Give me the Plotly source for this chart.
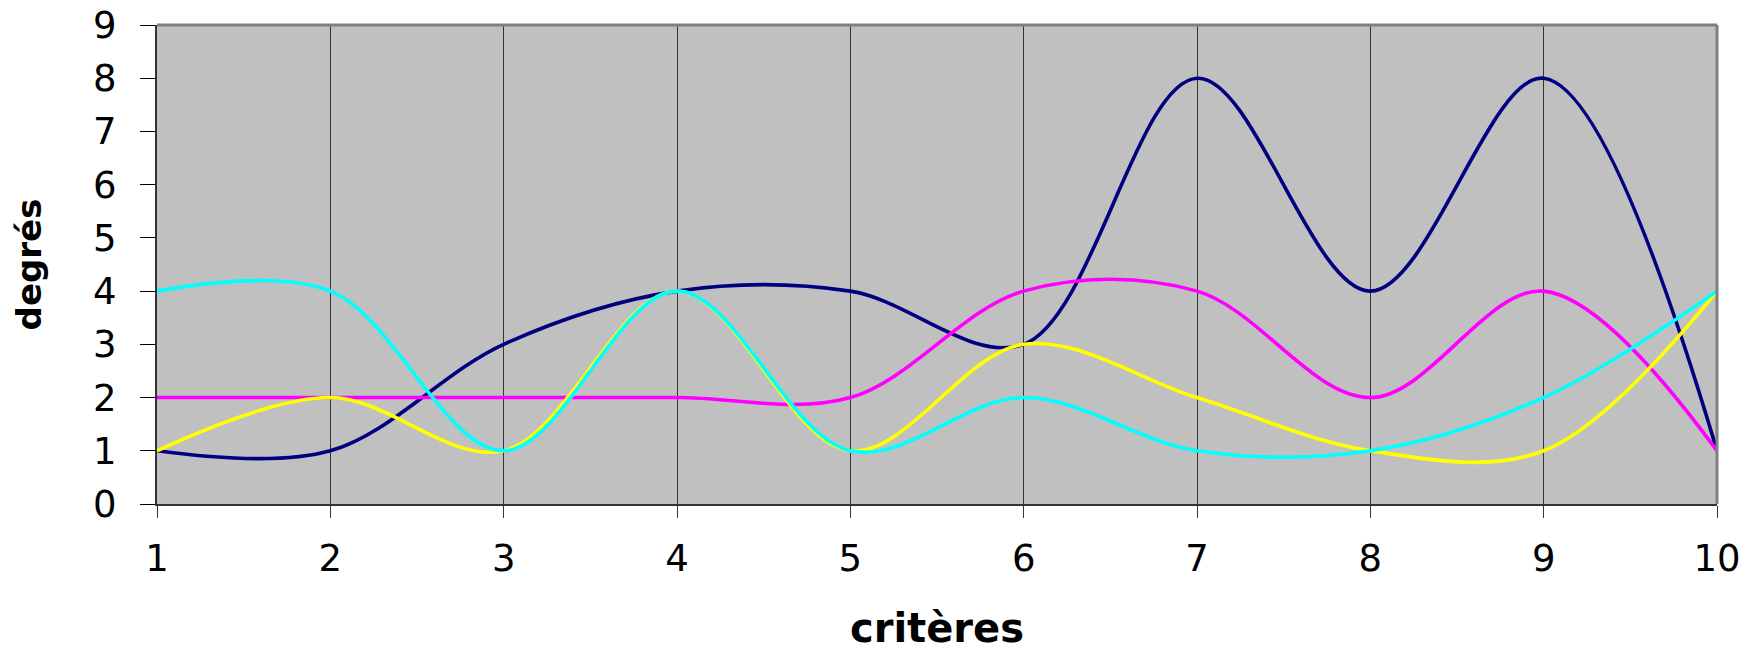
import plotly.graph_objects as go

criteres = [1, 2, 3, 4, 5, 6, 7, 8, 9, 10]
serie_bleu = [1, 1, 3, 4, 4, 3, 8, 4, 8, 1]
serie_magenta = [2, 2, 2, 2, 2, 4, 4, 2, 4, 1]
serie_jaune = [1, 2, 1, 4, 1, 3, 2, 1, 1, 4]
serie_cyan = [4, 4, 1, 4, 1, 2, 1, 1, 2, 4]
y_ticks = [0, 1, 2, 3, 4, 5, 6, 7, 8, 9]

series = [
    (serie_bleu, "#000080"),
    (serie_magenta, "#FF00FF"),
    (serie_jaune, "#FFFF00"),
    (serie_cyan, "#00FFFF"),
]

fig = go.Figure()
for vals, col in series:
    fig.add_trace(go.Scatter(
        x=criteres, y=vals, mode="lines",
        line=dict(color=col, width=3.6, shape="spline", smoothing=1.0),
        showlegend=False, hoverinfo="skip",
    ))

tickfont = dict(family="DejaVu Sans", size=37, color="black")

fig.update_layout(
    width=1760, height=651,
    margin=dict(l=157, r=43, t=25, b=147),
    paper_bgcolor="white",
    plot_bgcolor="#C0C0C0",
    xaxis=dict(
        range=[1, 10], tickvals=criteres, ticktext=[str(c) for c in criteres],
        showgrid=True, gridcolor="#333333", gridwidth=1,
        zeroline=False, showline=True, linecolor="#333333", linewidth=2,
        ticks="outside", ticklen=12, tickcolor="#333333", tickwidth=1,
        tickfont=tickfont, ticklabelstandoff=9, ticklabeloverflow="allow",
        title=dict(text="critères",
                   font=dict(family="DejaVu Sans", size=40, color="black", weight="bold"),
                   standoff=39),
        automargin=False,
    ),
    yaxis=dict(
        range=[0, 9], tickvals=y_ticks,
        showgrid=False, zeroline=False,
        showline=True, linecolor="#333333", linewidth=2,
        ticks="outside", ticklen=15, tickcolor="black", tickwidth=1,
        tickfont=tickfont, ticklabelstandoff=16, ticklabeloverflow="allow",
        title=dict(text="degrés",
                   font=dict(family="DejaVu Sans", size=34, color="black", weight="bold"),
                   standoff=41),
        automargin=False,
    ),
    shapes=[
        dict(type="line", xref="paper", yref="paper", x0=0, x1=1, y0=1, y1=1,
             line=dict(color="#808080", width=3)),
        dict(type="line", xref="paper", yref="paper", x0=1, x1=1, y0=0, y1=1,
             line=dict(color="#808080", width=3)),
    ],
)

fig.write_html(
    "out.html",
    config={"displayModeBar": False, "staticPlot": True},
    post_script="document.body.style.margin='0';document.body.style.overflow='hidden';",
)
